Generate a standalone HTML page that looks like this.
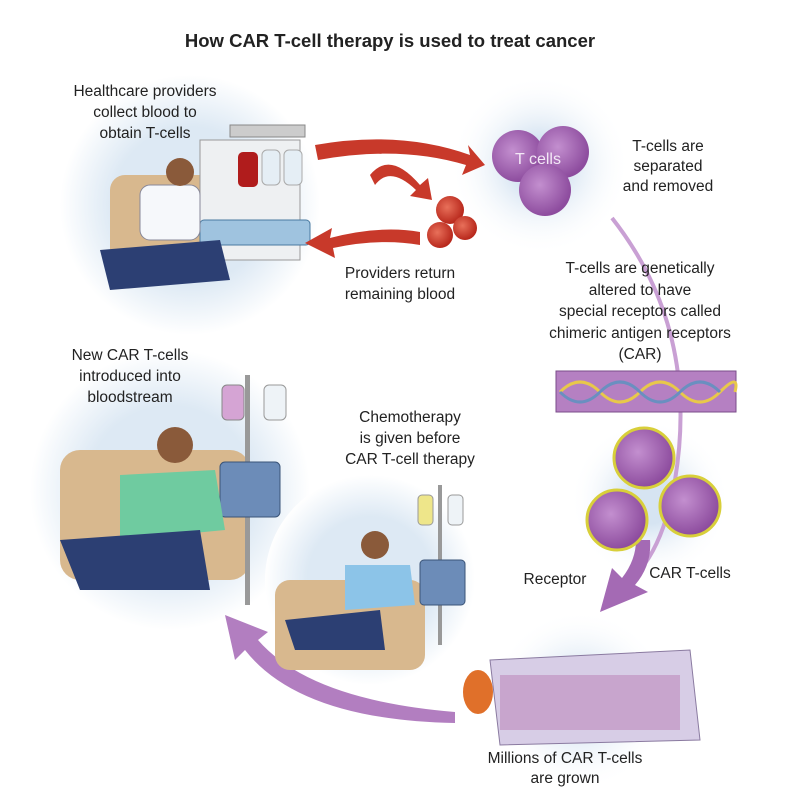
<!DOCTYPE html>
<html><head><meta charset="utf-8"><style>
html,body{margin:0;padding:0;background:#fff;}
svg{display:block;}
text{font-family:"Liberation Sans",sans-serif;fill:#222;}
</style></head><body>
<svg width="803" height="800" viewBox="0 0 803 800" xmlns="http://www.w3.org/2000/svg">
<defs>
<radialGradient id="g" cx="50%" cy="50%" r="50%">
<stop offset="0.6" stop-color="#dde9f4"/><stop offset="1" stop-color="#fff"/></radialGradient>
<radialGradient id="g2" cx="50%" cy="50%" r="50%">
<stop offset="0.3" stop-color="#d6e4f2"/><stop offset="1" stop-color="#fff" stop-opacity="0"/></radialGradient>
<radialGradient id="pc" cx="40%" cy="40%" r="60%"><stop offset="0" stop-color="#c38fcf"/><stop offset="1" stop-color="#8d4c9e"/></radialGradient>
<radialGradient id="rc" cx="40%" cy="40%" r="60%"><stop offset="0" stop-color="#e8705a"/><stop offset="1" stop-color="#b8281c"/></radialGradient>
</defs>
<text x="390" y="47" font-size="18.5" font-weight="bold" text-anchor="middle">How CAR T-cell therapy is used to treat cancer</text>

<circle cx="190" cy="205" r="130" fill="url(#g)"/>
<circle cx="540" cy="165" r="90" fill="url(#g2)"/>
<circle cx="170" cy="490" r="140" fill="url(#g)"/>
<circle cx="370" cy="580" r="105" fill="url(#g)"/>
<circle cx="650" cy="500" r="80" fill="url(#g2)"/>
<circle cx="580" cy="700" r="90" fill="url(#g2)"/>

<!-- top patient -->
<rect x="110" y="175" width="110" height="100" rx="15" fill="#d8b88e"/>
<rect x="200" y="140" width="100" height="120" fill="#eef0f2" stroke="#999"/>
<rect x="230" y="125" width="75" height="12" fill="#ccc" stroke="#888"/>
<rect x="238" y="152" width="20" height="35" rx="5" fill="#b01c1c"/>
<rect x="262" y="150" width="18" height="35" rx="5" fill="#e5eef5" stroke="#aaa"/>
<rect x="284" y="150" width="18" height="35" rx="5" fill="#e5eef5" stroke="#aaa"/>
<rect x="200" y="220" width="110" height="25" rx="4" fill="#9fc3df" stroke="#4a7aa0"/>
<rect x="140" y="185" width="60" height="55" rx="10" fill="#f6f8fb" stroke="#889"/>
<circle cx="180" cy="172" r="14" fill="#8a5a3a"/>
<path d="M100 250 L220 240 L230 280 L110 290 Z" fill="#2c3f73"/>

<!-- red arrows -->
<path d="M315 145 Q400 130 470 155 L468 145 L485 165 L462 175 L466 165 Q400 145 318 160 Z" fill="#c8392a"/>
<path d="M370 175 Q390 150 420 185 L428 178 L432 200 L410 196 L416 190 Q390 165 375 185 Z" fill="#c8392a"/>
<path d="M420 232 Q380 225 330 238 L332 228 L305 243 L335 258 L333 248 Q380 238 420 245 Z" fill="#c8392a"/>
<circle cx="450" cy="210" r="14" fill="url(#rc)"/>
<circle cx="440" cy="235" r="13" fill="url(#rc)"/>
<circle cx="465" cy="228" r="12" fill="url(#rc)"/>

<circle cx="518" cy="156" r="26" fill="url(#pc)"/>
<circle cx="563" cy="152" r="26" fill="url(#pc)"/>
<circle cx="545" cy="190" r="26" fill="url(#pc)"/>
<text x="538" y="164" font-size="16" style="fill:#f3e8f6" text-anchor="middle">T cells</text>

<text font-size="15.5" text-anchor="middle"><tspan x="145" y="96">Healthcare providers</tspan><tspan x="145" y="117">collect blood to</tspan><tspan x="145" y="138">obtain T-cells</tspan></text>
<text font-size="15.5" text-anchor="middle"><tspan x="668" y="151">T-cells are</tspan><tspan x="668" y="171">separated</tspan><tspan x="668" y="191">and removed</tspan></text>
<text font-size="15.5" text-anchor="middle"><tspan x="400" y="278">Providers return</tspan><tspan x="400" y="299">remaining blood</tspan></text>

<!-- purple arrow right (behind text) -->
<path d="M612 218 Q700 330 675 480 Q665 540 640 570" fill="none" stroke="#c9a0d4" stroke-width="4"/>
<path d="M650 540 Q652 565 635 585 L648 592 L600 612 L612 568 L622 578 Q636 560 636 540 Z" fill="#a46ab4"/>

<text font-size="15.5" text-anchor="middle"><tspan x="640" y="273">T-cells are genetically</tspan><tspan x="640" y="295">altered to have</tspan><tspan x="640" y="316">special receptors called</tspan><tspan x="640" y="338">chimeric antigen receptors</tspan><tspan x="640" y="359">(CAR)</tspan></text>

<rect x="556" y="371" width="180" height="41" fill="#b580c2" stroke="#7a4d8a"/>
<path d="M560 392 Q580 372 600 392 T640 392 T680 392 T720 392 T735 392" fill="none" stroke="#e8c84a" stroke-width="3"/>
<path d="M560 392 Q580 412 600 392 T640 392 T680 392 T720 392" fill="none" stroke="#6a8fc0" stroke-width="3"/>

<g stroke="#d8cf3a" stroke-width="3">
<circle cx="644" cy="458" r="30" fill="url(#pc)"/>
<circle cx="617" cy="520" r="30" fill="url(#pc)"/>
<circle cx="690" cy="506" r="30" fill="url(#pc)"/>
</g>
<text x="555" y="584" font-size="15.5" text-anchor="middle">Receptor</text>
<text x="690" y="578" font-size="15.5" text-anchor="middle">CAR T-cells</text>

<path d="M490 660 L690 650 L700 740 L500 745 Z" fill="#d7cde6" stroke="#8a7aa0"/>
<rect x="500" y="675" width="180" height="55" fill="#c49bc7" opacity="0.8"/>
<ellipse cx="478" cy="692" rx="15" ry="22" fill="#e0702a"/>
<text font-size="15.5" text-anchor="middle"><tspan x="565" y="763">Millions of CAR T-cells</tspan><tspan x="565" y="783">are grown</tspan></text>

<path d="M455 723 Q300 720 245 650 L235 660 L225 615 L268 632 L258 640 Q310 700 455 712 Z" fill="#b27ec0"/>

<rect x="60" y="450" width="190" height="130" rx="20" fill="#d8b88e"/>
<rect x="245" y="375" width="5" height="230" fill="#999"/>
<rect x="222" y="385" width="22" height="35" rx="5" fill="#d5a4d4" stroke="#888"/>
<rect x="264" y="385" width="22" height="35" rx="5" fill="#eef3f7" stroke="#999"/>
<rect x="220" y="462" width="60" height="55" rx="5" fill="#6c8cb8" stroke="#3a5478"/>
<circle cx="175" cy="445" r="18" fill="#8a5a3a"/>
<path d="M120 475 L215 470 L225 530 L120 540 Z" fill="#6fcba0"/>
<path d="M60 540 L200 530 L210 590 L80 590 Z" fill="#2c3f73"/>
<text font-size="15.5" text-anchor="middle"><tspan x="130" y="360">New CAR T-cells</tspan><tspan x="130" y="381">introduced into</tspan><tspan x="130" y="402">bloodstream</tspan></text>

<rect x="275" y="580" width="150" height="90" rx="15" fill="#d8b88e"/>
<rect x="438" y="485" width="4" height="160" fill="#999"/>
<rect x="418" y="495" width="15" height="30" rx="4" fill="#eee68a" stroke="#999"/>
<rect x="448" y="495" width="15" height="30" rx="4" fill="#eef3f7" stroke="#999"/>
<rect x="420" y="560" width="45" height="45" rx="4" fill="#6c8cb8" stroke="#3a5478"/>
<circle cx="375" cy="545" r="14" fill="#8a5a3a"/>
<path d="M345 565 L410 565 L415 605 L345 610 Z" fill="#8cc4e8"/>
<path d="M285 620 L380 610 L385 650 L295 650 Z" fill="#2c3f73"/>
<text font-size="15.5" text-anchor="middle"><tspan x="410" y="422">Chemotherapy</tspan><tspan x="410" y="443">is given before</tspan><tspan x="410" y="464">CAR T-cell therapy</tspan></text>
</svg>
</body></html>
